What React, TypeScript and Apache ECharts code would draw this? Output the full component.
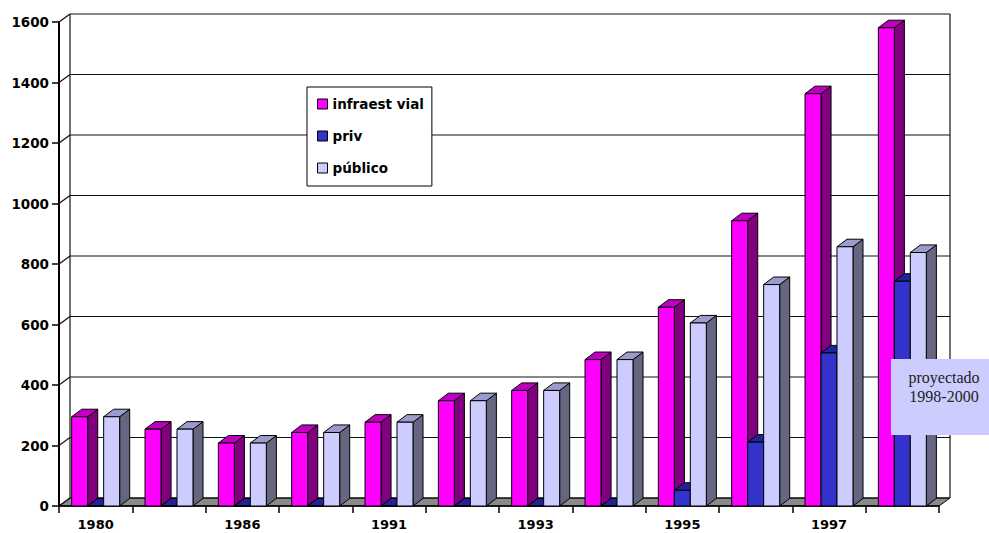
import React, { useEffect, useRef } from "react";
import * as echarts from "echarts";

const CATEGORIES = ["1980", "1985", "1986", "1990", "1991", "1992", "1993", "1994", "1995", "1996", "1997", "1998"];
const INFRA = [295, 254, 208, 243, 277, 348, 382, 484, 657, 943, 1363, 1581];
const PRIV = [0, 0, 0, 0, 0, 0, 0, 0, 52, 211, 506, 743];
const PUBLICO = [295, 254, 208, 243, 277, 348, 382, 484, 605, 732, 857, 838];
const Y_TICKS = [0, 200, 400, 600, 800, 1000, 1200, 1400, 1600];
const SERIES_NAMES = ["infraest vial", "priv", "público"];
const NOTE = "proyectado\n1998-2000";

const FONT = "DejaVu Sans";

function barRenderer(k: number, front: string, side: string, top: string) {
  return (params: any, api: any) => {
    const i = api.value(0);
    const v = api.value(1);
    const base = api.coord([i, 0]);
    const peak = api.coord([i, v]);
    const band = api.size([1, 0])[0];
    const w = band * 0.218;
    const x = base[0] - 1.5 * w + k * w;
    const y0 = base[1];
    const y1 = peak[1];
    const dx = band * 0.137;
    const dy = -band * 0.103;
    return {
      type: "group",
      children: [
        {
          type: "polygon",
          shape: { points: [[x + w, y1], [x + w + dx, y1 + dy], [x + w + dx, y0 + dy], [x + w, y0]] },
          style: { fill: side, stroke: "#000", lineWidth: 1 },
        },
        {
          type: "polygon",
          shape: { points: [[x, y1], [x + w, y1], [x + w + dx, y1 + dy], [x + dx, y1 + dy]] },
          style: { fill: top, stroke: "#000", lineWidth: 1 },
        },
        {
          type: "rect",
          shape: { x, y: y1, width: w, height: y0 - y1 },
          style: { fill: front, stroke: "#000", lineWidth: 1 },
        },
      ],
    };
  };
}

function frameRenderer(params: any, api: any) {
  const cs = params.coordSys;
  const x0 = cs.x;
  const x1 = cs.x + cs.width;
  const band = api.size([1, 0])[0];
  const dx = band * 0.15;
  const dy = -band * 0.109;
  const yZero = api.coord([0, Y_TICKS[0]])[1];
  const yTop = api.coord([0, Y_TICKS[Y_TICKS.length - 1]])[1];
  const children: any[] = [];
  children.push({
    type: "polygon",
    shape: { points: [[x0, yZero], [x1, yZero], [x1 + dx, yZero + dy], [x0 + dx, yZero + dy]] },
    style: { fill: "#8a8a8a", stroke: "#000", lineWidth: 1 },
  });
  Y_TICKS.forEach((t) => {
    const y = api.coord([0, t])[1];
    children.push({
      type: "line",
      shape: { x1: x0 + dx, y1: y + dy, x2: x1 + dx, y2: y + dy },
      style: { stroke: "#111", lineWidth: 1.2 },
    });
    children.push({
      type: "line",
      shape: { x1: x0, y1: y, x2: x0 + dx, y2: y + dy },
      style: { stroke: "#111", lineWidth: 1.2 },
    });
  });
  children.push({
    type: "line",
    shape: { x1: x0 + dx, y1: yTop + dy, x2: x0 + dx, y2: yZero + dy },
    style: { stroke: "#111", lineWidth: 1.2 },
  });
  children.push({
    type: "line",
    shape: { x1: x1 + dx, y1: yTop + dy, x2: x1 + dx, y2: yZero + dy },
    style: { stroke: "#111", lineWidth: 1.2 },
  });
  return { type: "group", children };
}

export default function App() {
  const ref = useRef<HTMLDivElement>(null);
  useEffect(() => {
    if (!ref.current) return;
    const chart = echarts.init(ref.current, undefined, { renderer: "svg" });
    const toData = (arr: number[]) => arr.map((v, i) => [i, v]);
    chart.setOption({
      animation: false,
      backgroundColor: "#fff",
      grid: { left: 59, right: 50, top: 22, bottom: 27 },
      legend: {
        data: SERIES_NAMES,
        orient: "vertical",
        left: 307,
        top: 87,
        padding: [10, 8, 11, 10],
        itemGap: 18,
        itemWidth: 10,
        itemHeight: 10,
        icon: "rect",
        backgroundColor: "#fff",
        borderColor: "#000",
        borderWidth: 1,
        itemStyle: { borderColor: "#000", borderWidth: 1 },
        textStyle: { fontFamily: FONT, fontWeight: "bold", fontSize: 13.5, color: "#000" },
      },
      xAxis: {
        type: "category",
        data: CATEGORIES,
        boundaryGap: true,
        axisLine: { show: true, lineStyle: { color: "#000", width: 1.5 } },
        axisTick: { show: true, interval: 0, length: 7, lineStyle: { color: "#000", width: 1.5 } },
        axisLabel: {
          interval: 1,
          margin: 12,
          fontFamily: FONT,
          fontWeight: "bold",
          fontSize: 13,
          color: "#000",
        },
        splitLine: { show: false },
        z: 1,
      },
      yAxis: {
        type: "value",
        min: 0,
        max: 1600,
        interval: 200,
        axisLine: { show: true, lineStyle: { color: "#000", width: 2 } },
        axisTick: { show: true, length: 7, lineStyle: { color: "#000", width: 1.5 } },
        axisLabel: {
          margin: 10,
          padding: [4, 0, 0, 0],
          formatter: (v: number) => String(v),
          fontFamily: FONT,
          fontWeight: "bold",
          fontSize: 13.5,
          color: "#000",
        },
        splitLine: { show: false },
      },
      series: [
        {
          type: "custom",
          name: "frame",
          z: 1,
          silent: true,
          renderItem: frameRenderer,
          data: [[0, 0]],
          encode: { x: 0, y: 1 },
        },
        {
          type: "custom",
          name: SERIES_NAMES[0],
          z: 2,
          itemStyle: { color: "#ff00ff" },
          renderItem: barRenderer(0, "#ff00ff", "#800080", "#c000c0"),
          data: toData(INFRA),
          encode: { x: 0, y: 1 },
        },
        {
          type: "custom",
          name: SERIES_NAMES[1],
          z: 3,
          itemStyle: { color: "#3333cc" },
          renderItem: barRenderer(1, "#3333cc", "#1a1a80", "#222299"),
          data: toData(PRIV),
          encode: { x: 0, y: 1 },
        },
        {
          type: "custom",
          name: SERIES_NAMES[2],
          z: 4,
          itemStyle: { color: "#ccccff" },
          renderItem: barRenderer(2, "#ccccff", "#666680", "#9c9ccc"),
          data: toData(PUBLICO),
          encode: { x: 0, y: 1 },
        },
      ],
      graphic: [
        {
          type: "rect",
          x: 891,
          y: 359,
          z: 100,
          shape: { x: 0, y: 0, width: 98, height: 76 },
          style: { fill: "#ccccff" },
        },
        {
          type: "text",
          x: 944,
          y: 368,
          z: 101,
          style: {
            text: NOTE,
            fontFamily: "Liberation Serif",
            fontSize: 16,
            lineHeight: 19,
            fill: "#222",
            align: "center",
            verticalAlign: "top",
          },
        },
      ],
    });
    return () => chart.dispose();
  }, []);
  return <div ref={ref} style={{ position: "absolute", left: 0, top: 0, width: 989, height: 533 }} />;
}
